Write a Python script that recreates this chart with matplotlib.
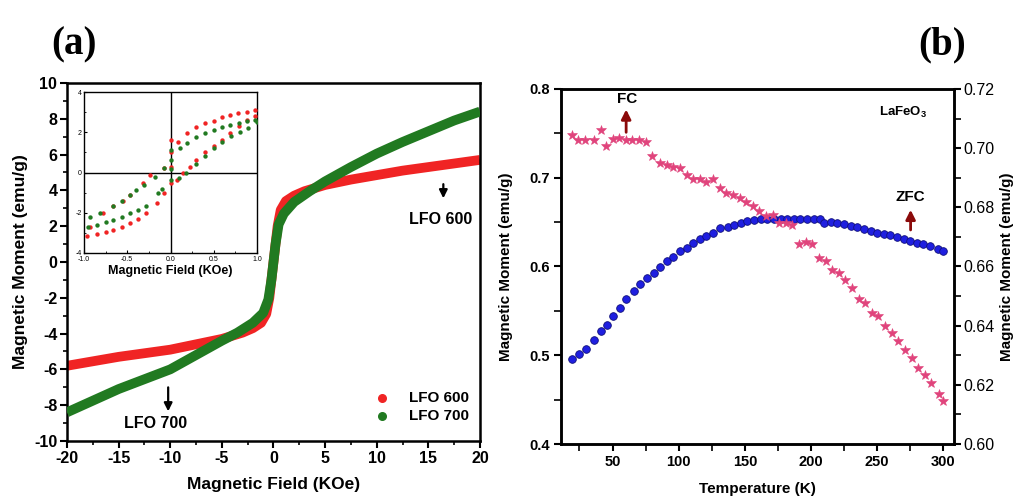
import matplotlib
matplotlib.use("Agg")
import matplotlib.pyplot as plt
from matplotlib.ticker import MultipleLocator

plt.rcParams['font.family'] = ['Liberation Sans', 'DejaVu Sans']
plt.rcParams['axes.unicode_minus'] = False

# ---------------- Panel (a) main M-H data ----------------
field_600 = [-20, -17.5, -15, -12.5, -10, -7.5, -5, -3, -2, -1.2, -0.7, -0.4, -0.2, 0,
             0.2, 0.4, 0.7, 1.2, 2, 3, 5, 7.5, 10, 12.5, 15, 17.5, 20]
moment_600 = [-5.8, -5.55, -5.3, -5.1, -4.9, -4.6, -4.3, -3.95, -3.7, -3.4, -2.9, -2.0, -1.0, 0,
              1.0, 2.0, 2.9, 3.4, 3.7, 3.95, 4.3, 4.6, 4.85, 5.1, 5.3, 5.5, 5.7]
field_700 = [-20, -17.5, -15, -12.5, -10, -7.5, -5, -3.5, -2, -1, -0.5, -0.2, 0,
             0.2, 0.5, 1, 2, 3.5, 5, 7.5, 10, 12.5, 15, 17.5, 20]
moment_700 = [-8.4, -7.75, -7.1, -6.55, -6.0, -5.2, -4.4, -3.95, -3.4, -2.85, -2.1, -1.0, 0,
              1.0, 2.1, 2.7, 3.35, 3.95, 4.5, 5.3, 6.05, 6.7, 7.3, 7.9, 8.4]

# ---------------- Panel (a) inset loop data ----------------
inset_h_600 = [0.98, 0.88, 0.78, 0.69, 0.59, 0.50, 0.40, 0.30, 0.19, 0.09, 0.0, 0.0, 0.0, -0.08, -0.24, -0.32, -0.47, -0.55, -0.66, -0.78, -0.93,
               -0.97, -0.85, -0.75, -0.66, -0.56, -0.47, -0.37, -0.28, -0.16, -0.08, 0.0, 0.08, 0.15, 0.23, 0.30, 0.40, 0.50, 0.60, 0.69, 0.79, 0.88, 0.98]
inset_m_600 = [3.1, 3.0, 2.95, 2.87, 2.75, 2.54, 2.45, 2.29, 1.96, 1.54, 1.6, 1.0, 0.3, 0.25, -0.11, -0.5, -1.1, -1.4, -1.65, -2.0, -2.69,
               -3.18, -3.05, -2.95, -2.85, -2.7, -2.52, -2.3, -2.02, -1.52, -1.03, -0.53, -0.36, 0.0, 0.3, 0.63, 1.0, 1.3, 1.6, 1.96, 2.3, 2.62, 2.79]
inset_h_700 = [0.98, 0.88, 0.79, 0.69, 0.59, 0.50, 0.40, 0.30, 0.19, 0.11, 0.0, 0.0, 0.0, -0.08, -0.18, -0.31, -0.40, -0.47, -0.56, -0.66, -0.81, -0.93,
               -0.95, -0.85, -0.75, -0.66, -0.56, -0.47, -0.37, -0.28, -0.14, -0.10, 0.0, 0.10, 0.18, 0.30, 0.40, 0.50, 0.60, 0.70, 0.80, 0.90, 1.0]
inset_m_700 = [2.62, 2.55, 2.45, 2.37, 2.25, 2.12, 1.98, 1.79, 1.46, 1.21, 1.1, 0.6, 0.2, 0.22, -0.2, -0.61, -0.85, -1.1, -1.4, -1.68, -2.0, -2.19,
               -2.69, -2.6, -2.45, -2.35, -2.2, -2.02, -1.85, -1.68, -1.02, -0.8, -0.36, -0.27, 0.0, 0.45, 0.8, 1.2, 1.5, 1.8, 2.0, 2.2, 2.5]

# ---------------- Panel (b) M-T data ----------------
temp_zfc = [19, 25, 30, 36, 41, 46, 50, 56, 60, 66, 71, 76, 81, 86, 91, 96, 101, 106, 111, 116, 121, 126, 131, 137, 142, 147,
            152, 157, 162, 167, 172, 177, 182, 187, 192, 197, 202, 207, 210, 215, 220, 225, 230, 235, 240, 245, 250, 255, 260,
            265, 270, 275, 280, 285, 290, 296, 300]
moment_zfc = [0.496, 0.501, 0.507, 0.517, 0.527, 0.534, 0.544, 0.553, 0.563, 0.572, 0.580, 0.587, 0.593, 0.599, 0.606, 0.611,
              0.617, 0.621, 0.626, 0.631, 0.634, 0.638, 0.643, 0.645, 0.647, 0.649, 0.651, 0.652, 0.654, 0.654, 0.654, 0.654,
              0.654, 0.654, 0.654, 0.654, 0.653, 0.653, 0.649, 0.650, 0.649, 0.648, 0.646, 0.644, 0.642, 0.640, 0.638, 0.637,
              0.635, 0.633, 0.631, 0.629, 0.627, 0.625, 0.623, 0.620, 0.617]
temp_fc = [19, 24, 29, 36, 41, 45, 50, 55, 60, 65, 70, 75, 80, 86, 91, 96, 101, 106, 111, 116, 121, 126, 131, 136, 141, 146,
           151, 156, 161, 166, 171, 176, 181, 186, 191, 196, 201, 206, 211, 216, 221, 226, 231, 236, 241, 246, 251, 256, 261,
           266, 271, 276, 281, 286, 291, 297, 300]
moment_fc = [0.7485, 0.743, 0.743, 0.742, 0.754, 0.736, 0.744, 0.745, 0.743, 0.742, 0.742, 0.740, 0.725, 0.717, 0.714, 0.712,
             0.711, 0.703, 0.699, 0.698, 0.695, 0.698, 0.688, 0.683, 0.681, 0.677, 0.673, 0.668, 0.662, 0.657, 0.658, 0.649,
             0.649, 0.647, 0.625, 0.628, 0.625, 0.610, 0.606, 0.596, 0.593, 0.585, 0.576, 0.563, 0.559, 0.548, 0.544, 0.533,
             0.525, 0.516, 0.506, 0.497, 0.486, 0.478, 0.469, 0.456, 0.448]

RED = '#f02424'
GREEN = '#217a21'
PINK = '#e0447c'
BLUE = '#1f1fe0'
DARKRED = '#8b0a0a'

fig = plt.figure(figsize=(10.18, 4.98), dpi=100)
fig.patch.set_facecolor('white')

# ======== Panel (a) ========
ax = fig.add_axes([0.0658, 0.1145, 0.4057, 0.719])
ax.plot(field_600, moment_600, color=RED, lw=7, solid_capstyle='butt', solid_joinstyle='round', zorder=2)
ax.plot(field_700, moment_700, color=GREEN, lw=7, solid_capstyle='butt', solid_joinstyle='round', zorder=3)
ax.set_xlim(-20, 20)
ax.set_ylim(-10, 10)
ax.xaxis.set_major_locator(MultipleLocator(5))
ax.xaxis.set_minor_locator(MultipleLocator(2.5))
ax.yaxis.set_major_locator(MultipleLocator(2))
ax.yaxis.set_minor_locator(MultipleLocator(1))
ax.tick_params(which='major', direction='out', length=5, width=1.5, labelsize=11.5, pad=2)
ax.tick_params(which='minor', direction='out', length=3, width=1.2)
for lab in ax.get_xticklabels() + ax.get_yticklabels():
    lab.set_fontweight('bold')
for s in ax.spines.values():
    s.set_linewidth(1.8)
ax.set_xlabel('Magnetic Field (KOe)', fontsize=12.5, fontweight='bold', labelpad=8)
ax.set_ylabel('Magnetic Moment (emu/g)', fontsize=12.5, fontweight='bold', labelpad=4)

# legend
ax.scatter([], [], color=RED, s=30, label='LFO 600')
ax.scatter([], [], color=GREEN, s=30, label='LFO 700')
leg = ax.legend(loc='lower right', frameon=False, prop={'weight': 'bold', 'size': 11},
                handletextpad=0.8, borderaxespad=0.3, labelspacing=0.3, bbox_to_anchor=(1.0, 0.02))

ax.annotate('', xy=(16.45, 3.4), xytext=(16.45, 4.5),
            arrowprops=dict(arrowstyle='-|>', color='black', lw=1.6, mutation_scale=12))
ax.text(16.2, 2.35, 'LFO 600', fontsize=11.5, fontweight='bold', ha='center', va='center')
ax.annotate('', xy=(-10.2, -8.5), xytext=(-10.2, -6.85),
            arrowprops=dict(arrowstyle='-|>', color='black', lw=1.6, mutation_scale=12))
ax.text(-11.4, -9.05, 'LFO 700', fontsize=11.5, fontweight='bold', ha='center', va='center')

fig.text(0.073, 0.91, '(a)', fontsize=28, fontweight='bold', family='Liberation Serif', ha='center', va='center')

# inset
ins = fig.add_axes([0.0825, 0.492, 0.170, 0.323])
ins.scatter(inset_h_600, inset_m_600, color=RED, s=10, zorder=3, linewidths=0)
ins.scatter(inset_h_700, inset_m_700, color=GREEN, s=10, zorder=3, linewidths=0)
ins.axhline(0, color='black', lw=1.0, zorder=1)
ins.axvline(0, color='black', lw=1.0, zorder=1)
ins.set_xlim(-1, 1)
ins.set_ylim(-4, 4)
ins.xaxis.set_major_locator(MultipleLocator(0.5))
ins.xaxis.set_minor_locator(MultipleLocator(0.25))
ins.yaxis.set_major_locator(MultipleLocator(2))
ins.yaxis.set_minor_locator(MultipleLocator(1))
ins.tick_params(which='major', direction='in', length=2.5, width=0.8, labelsize=5, pad=1.5)
ins.tick_params(axis='x', which='major', pad=2.5)
ins.tick_params(which='minor', direction='in', length=1.5, width=0.6)
for s in ins.spines.values():
    s.set_linewidth(1.0)
ins.set_xlabel('Magnetic Field (KOe)', fontsize=9, fontweight='bold', labelpad=1)

# ======== Panel (b) ========
bx = fig.add_axes([0.551, 0.1084, 0.386, 0.713])
bx.plot(temp_fc, moment_fc, linestyle='none', marker='*', color=PINK, markersize=7, markeredgewidth=0.4, zorder=3)
bx.plot(temp_zfc, moment_zfc, linestyle='none', marker='o', markerfacecolor=BLUE, markeredgecolor='#10107a',
        markersize=5.5, markeredgewidth=0.6, zorder=2)
bx.set_xlim(11, 308)
bx.set_ylim(0.4, 0.8)
bx.xaxis.set_major_locator(MultipleLocator(50))
bx.xaxis.set_minor_locator(MultipleLocator(25))
bx.yaxis.set_major_locator(MultipleLocator(0.1))
bx.yaxis.set_minor_locator(MultipleLocator(0.05))
bx.tick_params(which='major', direction='out', length=5, width=1.5, labelsize=10.5, pad=3)
bx.tick_params(which='minor', direction='out', length=5, width=1.2)
for lab in bx.get_xticklabels() + bx.get_yticklabels():
    lab.set_fontweight('bold')
for s in bx.spines.values():
    s.set_linewidth(1.8)
bx.set_xlabel('Temperature (K)', fontsize=11, fontweight='bold', labelpad=9)
bx.set_ylabel('Magnetic Moment (emu/g)', fontsize=11, fontweight='bold', labelpad=12)

bx2 = bx.twinx()
bx2.set_ylim(0.60, 0.72)
bx2.yaxis.set_major_locator(MultipleLocator(0.02))
bx2.yaxis.set_minor_locator(MultipleLocator(0.01))
bx2.yaxis.set_major_formatter(matplotlib.ticker.FormatStrFormatter('%.2f'))
bx2.tick_params(which='major', direction='out', length=5, width=1.5, labelsize=11.5, pad=2)
bx2.tick_params(which='minor', direction='out', length=5, width=1.2)
bx2.set_ylabel('Magnetic Moment (emu/g)', fontsize=11, fontweight='bold', labelpad=4)
for s in bx2.spines.values():
    s.set_linewidth(1.8)

bx.annotate('', xy=(60.3, 0.780), xytext=(60.3, 0.748),
            arrowprops=dict(arrowstyle='-|>', color=DARKRED, lw=2.0, mutation_scale=14))
bx.text(61, 0.789, 'FC', fontsize=11, fontweight='bold', ha='center', va='center')
bx.annotate('', xy=(275.3, 0.667), xytext=(275.3, 0.638),
            arrowprops=dict(arrowstyle='-|>', color=DARKRED, lw=2.0, mutation_scale=14))
bx.text(275.3, 0.678, 'ZFC', fontsize=11, fontweight='bold', ha='center', va='center')
bx.text(270, 0.773, r'LaFeO$_\mathregular{3}$', fontsize=9.5, fontweight='bold', ha='center', va='center')

fig.text(0.925, 0.91, '(b)', fontsize=28, fontweight='bold', family='Liberation Serif', ha='center', va='center')

fig.savefig('out.png', dpi=100)
